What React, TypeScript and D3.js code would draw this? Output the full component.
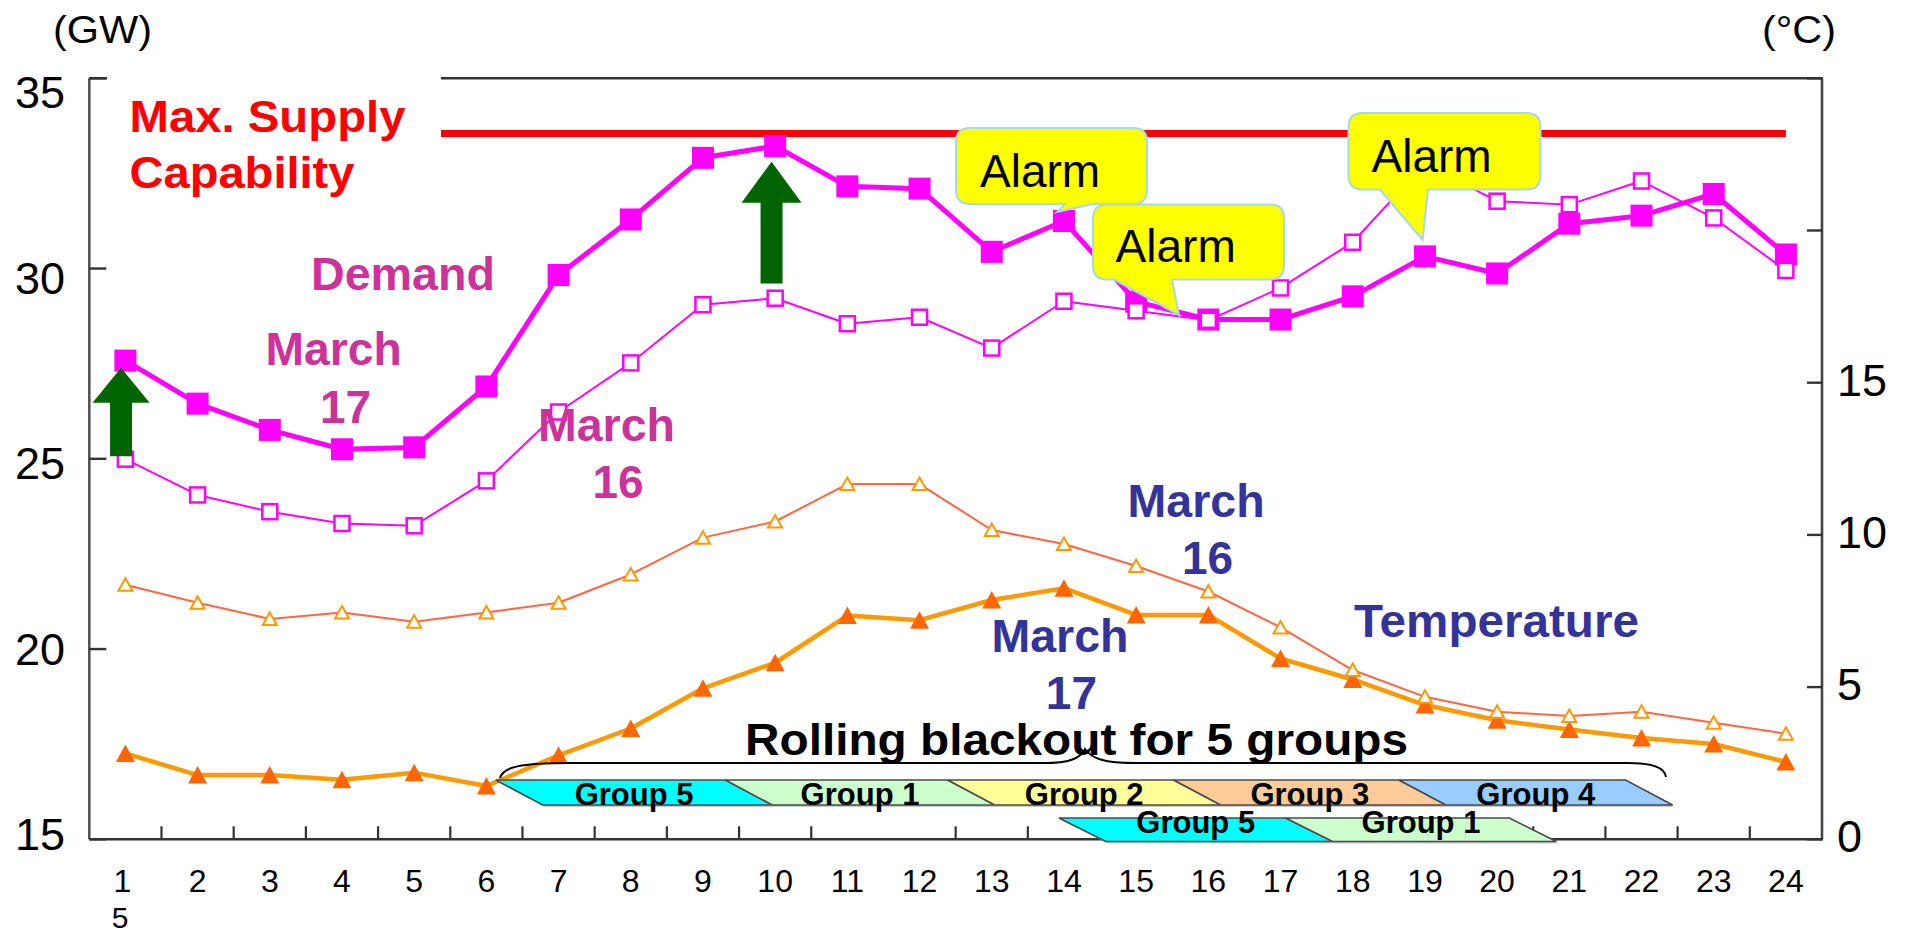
import React from 'react';
import * as d3 from 'd3';

// ---------- data ----------
const hours = [1, 2, 3, 4, 5, 6, 7, 8, 9, 10, 11, 12, 13, 14, 15, 16, 17, 18, 19, 20, 21, 22, 23, 24];
const hourLabels = ['1', '2', '3', '4', '5', '6', '7', '8', '9', '10', '11', '12', '13', '14', '15', '16', '17', '18', '19', '20', '21', '22', '23', '24'];
const demandMar17 = [27.58, 26.45, 25.76, 25.25, 25.3, 26.9, 29.83, 31.29, 32.91, 33.22, 32.16, 32.1, 30.44, 31.25, 29.13, 28.66, 28.66, 29.27, 30.32, 29.87, 31.18, 31.39, 31.96, 30.37];
const demandMar16 = [24.99, 24.05, 23.61, 23.3, 23.24, 24.42, 26.23, 27.52, 29.05, 29.22, 28.55, 28.72, 27.91, 29.14, 28.89, 28.64, 29.49, 30.69, 32.75, 31.77, 31.68, 32.3, 31.33, 29.95];
const tempMar16 = [8.36, 7.77, 7.24, 7.45, 7.15, 7.45, 7.77, 8.7, 9.91, 10.44, 11.67, 11.67, 10.16, 9.7, 8.98, 8.14, 6.96, 5.56, 4.68, 4.19, 4.05, 4.19, 3.83, 3.47];
const tempMar17 = [2.82, 2.11, 2.11, 1.96, 2.19, 1.75, 2.76, 3.64, 4.96, 5.8, 7.35, 7.2, 7.86, 8.25, 7.37, 7.37, 5.94, 5.25, 4.41, 3.91, 3.61, 3.33, 3.13, 2.54];
const maxSupply = 33.55;

const gwTicks = [15, 20, 25, 30, 35];
const gwTickLabels = ['15', '20', '25', '30', '35'];
const tempTicks = [0, 5, 10, 15, 20, 25];
const tempTickLabels = ['0', '5', '10', '15', '', ''];
const hourTickBoundaries = [1, 2, 3, 4, 5, 6, 7, 8, 9, 10, 12, 13, 14, 15, 16, 17, 18, 19, 20, 21, 22, 23];

// rolling blackout schedule (hour positions)
const row1Groups = ['Group 5', 'Group 1', 'Group 2', 'Group 3', 'Group 4'];
const row1Starts = [6.13, 9.31, 12.39, 15.52, 18.64];
const row1End = 21.78;
const row2Groups = ['Group 5', 'Group 1'];
const row2Starts = [13.93, 17.07];
const row2End = 20.17;

// arrows (hour position, tip GW, tail GW)
const arrowHours = [0.94, 9.95];
const arrowTips = [27.39, 32.81];
const arrowTails = [25.07, 29.61];

const groupColors: Record<string, string> = {
  'Group 1': '#CCFFCC',
  'Group 2': '#FFFF99',
  'Group 3': '#FFCC99',
  'Group 4': '#99CCFF',
  'Group 5': '#00FFFF',
};

const FONT = '"Liberation Sans", Arial, Helvetica, sans-serif';
const W = 1907;
const H = 937;
const P = { left: 89.3, right: 1822, top: 78.3, bottom: 839.3 };

function calloutPath(x: number, y: number, w: number, h: number, r: number, b1: number, b2: number, tx: number, ty: number) {
  return `M${x + r},${y} H${x + w - r} Q${x + w},${y} ${x + w},${y + r} V${y + h - r} Q${x + w},${y + h} ${x + w - r},${y + h} H${b2} L${tx},${ty} L${b1},${y + h} H${x + r} Q${x},${y + h} ${x},${y + h - r} V${y + r} Q${x},${y} ${x + r},${y} Z`;
}

export default function App() {
  const xBand = d3.scaleBand<number>().domain(hours).range([P.left, P.right]).paddingInner(0).paddingOuter(0);
  const bw = xBand.bandwidth();
  const xc = (h: number) => (xBand(h) as number) + bw / 2;
  const xt = d3.scaleLinear().domain([0.5, 24.5]).range([P.left, P.right]);
  const yL = d3.scaleLinear().domain([15, 35]).range([P.bottom, P.top]);
  const yR = d3.scaleLinear().domain([0, 25]).range([P.bottom, P.top]);
  const yLabelL = d3.scaleLinear().domain([15, 35]).range([834, 92]);

  const mkLine = (vals: number[], ys: d3.ScaleLinear<number, number>) =>
    d3.line<number>().x((_, i) => xc(hours[i])).y((d) => ys(d))(vals) || '';

  const axisColor = '#333';

  // group bars
  const barRow = (names: string[], starts: number[], end: number, top: number, bottom: number, textY: number, key: string) => {
    const slant = 47;
    return names.map((g, i) => {
      const s = xt(starts[i]);
      const e = xt(i + 1 < starts.length ? starts[i + 1] : end);
      const pts = `${s},${top} ${e},${top} ${e + slant},${bottom} ${s + slant},${bottom}`;
      const shadow = `${s + 2},${top + 2} ${e + 2},${top + 2} ${e + slant + 2},${bottom + 2} ${s + slant + 2},${bottom + 2}`;
      const cx = (s + e + slant) / 2;
      return (
        <g key={key + i}>
          <polygon points={shadow} fill="#b0b0b0" opacity={0.7} />
          <polygon points={pts} fill={groupColors[g]} stroke="#4a4a4a" strokeWidth={1.6} />
          <text x={cx} y={textY} textAnchor="middle" fontFamily={FONT} fontWeight="bold" fontSize={31} fill="#000">{g}</text>
        </g>
      );
    });
  };

  const arrowPath = (cx: number, tip: number, base: number, tail: number, headW: number, shaftW: number) =>
    `M${cx},${tip} L${cx + headW / 2},${base} L${cx + shaftW / 2},${base} L${cx + shaftW / 2},${tail} L${cx - shaftW / 2},${tail} L${cx - shaftW / 2},${base} L${cx - headW / 2},${base} Z`;
  const arrowHeadH = [35, 41];
  const arrowHeadW = [57, 60];

  const callouts = [
    { x: 956, y: 128, w: 191, h: 76, b1: 1065, b2: 1092, tx: 1057, ty: 212, lx: 980, ly: 187.3 },
    { x: 1093, y: 204.5, w: 191, h: 75, b1: 1114, b2: 1172, tx: 1179, ty: 315, lx: 1115.6, ly: 261.7 },
    { x: 1348.5, y: 113, w: 192, h: 76.5, b1: 1380, b2: 1428, tx: 1422.6, ty: 240, lx: 1371.5, ly: 171.7 },
  ];

  const bold = (x: number, y: number, txt: string, fill: string, size: number, tl?: number, anchor: 'start' | 'middle' = 'start') => (
    <text x={x} y={y} fontFamily={FONT} fontWeight="bold" fontSize={size} fill={fill} textAnchor={anchor}
      {...(tl ? { textLength: tl, lengthAdjust: 'spacingAndGlyphs' } : {})}>{txt}</text>
  );

  const magenta = '#CC3399';
  const blue = '#333399';

  return (
    <div>
      <style>{`body{margin:0;overflow:hidden;background:#fff}`}</style>
      <svg width={W} height={H} viewBox={`0 0 ${W} ${H}`} style={{ display: 'block', background: '#fff' }}>
        {/* units */}
        <text x={53} y={43.3} fontFamily={FONT} fontSize={38} fill="#000" textLength={99} lengthAdjust="spacingAndGlyphs">(GW)</text>
        <text x={1762} y={43.3} fontFamily={FONT} fontSize={38} fill="#000" textLength={74} lengthAdjust="spacingAndGlyphs">(°C)</text>

        {/* frame */}
        <line x1={P.left} x2={P.right + 1} y1={P.top} y2={P.top} stroke={axisColor} strokeWidth={2.6} />
        <line x1={P.left} x2={P.left} y1={P.top} y2={P.bottom} stroke="#555" strokeWidth={2.6} />
        <line x1={P.right} x2={P.right} y1={P.top} y2={P.bottom} stroke="#444" strokeWidth={2.6} />
        <line x1={P.left} x2={P.right + 1} y1={P.bottom} y2={P.bottom} stroke={axisColor} strokeWidth={2.6} />

        {/* left ticks */}
        {gwTicks.map((v, i) => (
          <g key={'gl' + v}>
            <line x1={P.left} x2={P.left + 17} y1={yL(v)} y2={yL(v)} stroke={axisColor} strokeWidth={2.4} />
            <text x={65} y={yLabelL(v) + 16} textAnchor="end" fontFamily={FONT} fontSize={45} fill="#000">{gwTickLabels[i]}</text>
          </g>
        ))}
        {/* right ticks */}
        {tempTicks.map((v, i) => (
          <g key={'tr' + v}>
            <line x1={P.right - 15} x2={P.right} y1={yR(v)} y2={yR(v)} stroke={axisColor} strokeWidth={2.4} />
            {tempTickLabels[i] !== '' && (
              <text x={1837} y={yR(v) + 13} textAnchor="start" fontFamily={FONT} fontSize={45} fill="#000">{tempTickLabels[i]}</text>
            )}
          </g>
        ))}
        {/* x ticks */}
        {hourTickBoundaries.map((h) => (
          <line key={'xt' + h} x1={(xBand(h) as number) + bw} x2={(xBand(h) as number) + bw} y1={P.bottom} y2={P.bottom - 13} stroke={axisColor} strokeWidth={2.2} />
        ))}
        {/* hour labels */}
        {hours.map((h, i) => (
          <text key={'hl' + h} x={xc(h) - (h === 1 ? 3 : 0)} y={892} textAnchor="middle" fontFamily={FONT} fontSize={32} fill="#000">{hourLabels[i]}</text>
        ))}
        <text x={120} y={928} textAnchor="middle" fontFamily={FONT} fontSize={30} fill="#000">5</text>

        {/* max supply line */}
        <line x1={xc(1)} x2={xc(24)} y1={yL(maxSupply)} y2={yL(maxSupply)} stroke="#FF0000" strokeWidth={7} />

        {/* temperature lines */}
        <path d={mkLine(tempMar17, yR)} fill="none" stroke="#FF9900" strokeWidth={4.5} strokeLinejoin="round" />
        {tempMar17.map((t, i) => {
          const cx = xc(hours[i]);
          const cy = yR(t);
          return <path key={'t17' + i} d={`M${cx},${cy - 9} L${cx + 9.5},${cy + 8.5} L${cx - 9.5},${cy + 8.5} Z`} fill="#FF6600" />;
        })}
        <path d={mkLine(tempMar16, yR)} fill="none" stroke="#FF6644" strokeWidth={2} strokeLinejoin="round" />
        {tempMar16.map((t, i) => {
          const cx = xc(hours[i]);
          const cy = yR(t);
          return <path key={'t16' + i} d={`M${cx},${cy - 6.5} L${cx + 7},${cy + 6} L${cx - 7},${cy + 6} Z`} fill="#fff" stroke="#FF9900" strokeWidth={2} strokeLinejoin="miter" />;
        })}

        {/* demand lines */}
        <path d={mkLine(demandMar17, yL)} fill="none" stroke="#FF00FF" strokeWidth={5} strokeLinejoin="round" />
        {demandMar17.map((v, i) => (
          <rect key={'d17' + i} x={xc(hours[i]) - 11} y={yL(v) - 11} width={22} height={22} fill="#FF00FF" />
        ))}
        <path d={mkLine(demandMar16, yL)} fill="none" stroke="#FF00FF" strokeWidth={2} strokeLinejoin="round" />
        {demandMar16.map((v, i) => (
          <rect key={'d16' + i} x={xc(hours[i]) - 7.5} y={yL(v) - 7.5} width={15} height={15} fill="#fff" stroke="#FF00FF" strokeWidth={2.5} />
        ))}

        {/* white box behind supply label */}
        <rect x={107} y={68} width={334} height={135} fill="#fff" />
        {bold(129.5, 131.7, 'Max. Supply', '#FF0000', 44, 276)}
        {bold(129.5, 188.3, 'Capability', '#FF0000', 44, 225)}

        {/* series labels */}
        {bold(311, 290, 'Demand', magenta, 46, 184)}
        {bold(265.6, 365, 'March', magenta, 46, 136)}
        {bold(345.5, 422.7, '17', magenta, 46, undefined, 'middle')}
        {bold(538, 440.7, 'March', magenta, 46, 137)}
        {bold(618, 498.3, '16', magenta, 46, undefined, 'middle')}
        {bold(1127.6, 516.7, 'March', blue, 46, 137)}
        {bold(1207.5, 574.3, '16', blue, 46, undefined, 'middle')}
        {bold(991.5, 652.3, 'March', blue, 46, 137)}
        {bold(1071.4, 709.3, '17', blue, 46, undefined, 'middle')}
        {bold(1354, 636.7, 'Temperature', blue, 46, 285)}

        {/* arrows */}
        {arrowHours.map((h, i) => {
          const tip = yL(arrowTips[i]);
          return (
            <path key={'ar' + i} d={arrowPath(xt(h), tip, tip + arrowHeadH[i], yL(arrowTails[i]), arrowHeadW[i], 22)} fill="#006400" />
          );
        })}

        {/* rolling blackout brace + bars */}
        <path d="M500,778 C503,767 520,763 570,763 L1045,763 C1068,763 1080,759 1085,749 C1092,759 1105,763 1135,763 L1628,763 C1652,763 1665,768 1666,777" fill="none" stroke="#000" strokeWidth={2} />
        {bold(745, 755, 'Rolling blackout for 5 groups', '#000', 44, 663)}
        {barRow(row1Groups, row1Starts, row1End, 780, 805, 805, 'r1')}
        {barRow(row2Groups, row2Starts, row2End, 818, 841.5, 833, 'r2')}

        {/* alarm callouts */}
        {callouts.map((c, i) => (
          <g key={'co' + i}>
            <path d={calloutPath(c.x, c.y, c.w, c.h, 14, c.b1, c.b2, c.tx, c.ty)} fill="#FFFF00" stroke="#A6D8E6" strokeWidth={2} />
            <text x={c.lx} y={c.ly} fontFamily={FONT} fontSize={46} fill="#000">Alarm</text>
          </g>
        ))}
      </svg>
    </div>
  );
}
